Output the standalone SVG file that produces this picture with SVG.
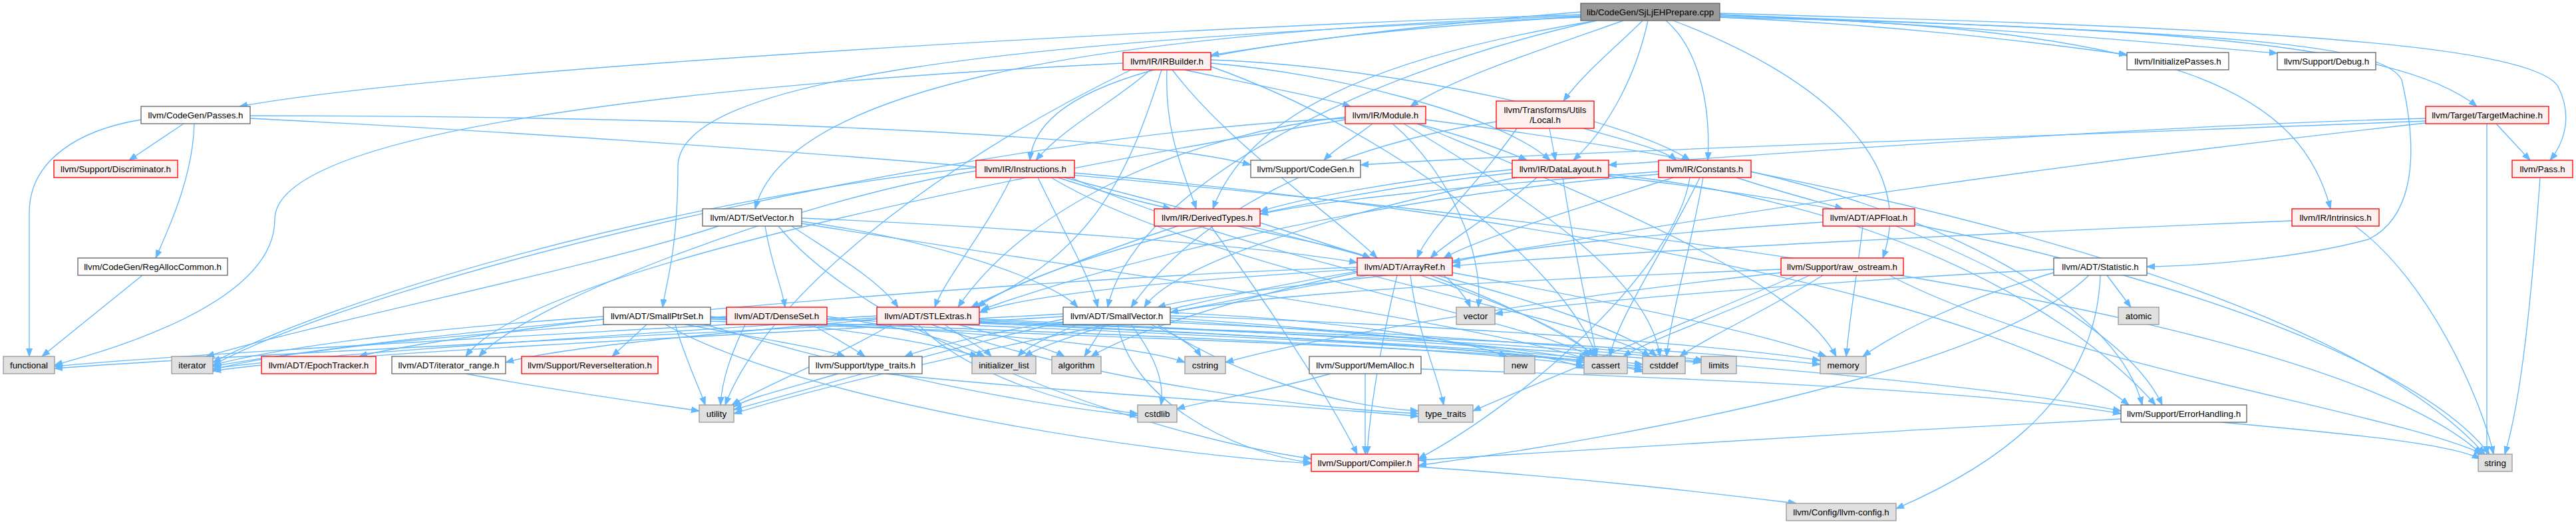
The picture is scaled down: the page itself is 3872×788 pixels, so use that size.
<svg xmlns="http://www.w3.org/2000/svg" width="3872" height="788" viewBox="0 0 3872 788">
<defs>
<marker id="a" markerWidth="13" markerHeight="10" refX="12" refY="5" orient="auto" markerUnits="userSpaceOnUse"><path d="M0,0.5 L12,5 L0,9.5 z" fill="#63b8ff" stroke="#63b8ff" stroke-width="1"/></marker>
<style>
text{font-family:"Liberation Sans",Arial,Helvetica,sans-serif;font-size:13.33px;text-anchor:middle;fill:#000}
rect{stroke-width:1.33}
.w rect{fill:#fff;stroke:#666}
.r rect{fill:#fff0f0;stroke:#f00}
.g rect{fill:#e0e0e0;stroke:#999}
.root rect{fill:#999;stroke:#666}
#edges path{fill:none;stroke:#63b8ff;stroke-width:1.33;marker-end:url(#a)}
</style>
</defs>
<rect x="0" y="0" width="3872" height="788" fill="#fff"/>
<g id="edges">
<path d="M2376,22 C1800,40 700,100 360,160"/>
<path d="M2376,24 C1600,50 1180,140 1135,314"/>
<path d="M2376,26 C1500,60 1020,120 1019,250 C1019,380 1000,430 996,462"/>
<path d="M2400,31 C2000,120 1700,300 1665,462"/>
<path d="M2585,22 C3300,50 3580,60 3610,120 C3640,250 3620,330 3560,360 C3450,390 3300,400 3227,401"/>
<path d="M2504,31 C2550,70 2572,150 2567,241"/>
<path d="M2477,31 C2460,110 2420,190 2365,241"/>
<path d="M2469,31 C2430,70 2380,110 2350,152"/>
<path d="M2440,31 C2300,80 2180,120 2120,160"/>
<path d="M2376,18 C2100,40 1900,70 1820,83"/>
<path d="M2376,25 C1800,60 1560,120 1548,241"/>
<path d="M2400,31 C2100,80 1880,160 1823,314"/>
<path d="M2585,24 C3300,40 3460,150 3503,314"/>
<path d="M2585,26 C2900,40 3100,70 3197,82"/>
<path d="M2585,20 C3300,40 3800,60 3845,130 C3870,180 3850,220 3833,241"/>
<path d="M2585,22 C3000,40 3300,70 3423,80"/>
<path d="M2515,31 C2750,120 2880,250 2830,388"/>
<path d="M2585,26 C3200,40 3600,60 3723,160"/>
<path d="M212,180 C120,195 44,240 44,320 L44,536"/>
<path d="M276,186 L194,241"/>
<path d="M292,186 C290,260 260,330 234,388"/>
<path d="M376,174 C1000,174 1700,200 1880,248"/>
<path d="M376,178 C1400,230 3400,380 3730,683"/>
<path d="M214,414 L63,536"/>
<path d="M1729,105 C1680,150 1600,190 1557,241"/>
<path d="M1754,105 C1750,200 1780,260 1798,314"/>
<path d="M1762,105 C1850,220 2000,320 2070,388"/>
<path d="M1746,105 C1700,250 1650,380 1460,462"/>
<path d="M1820,90 C2100,100 2450,180 2540,241"/>
<path d="M1820,95 C2000,110 2250,170 2330,241"/>
<path d="M1780,105 C1900,130 2000,150 2030,160"/>
<path d="M1820,100 C2100,200 2350,400 2400,536"/>
<path d="M1688,95 C1000,130 413,200 413,330 C413,460 150,530 82,549"/>
<path d="M1700,105 C1400,250 1150,450 1090,609"/>
<path d="M2063,186 C2040,205 2010,220 1990,241"/>
<path d="M2130,186 C2200,205 2260,225 2295,241"/>
<path d="M2022,176 C1800,200 1550,300 1440,462"/>
<path d="M2022,180 C1600,250 800,400 700,536"/>
<path d="M2110,186 C2300,300 2480,420 2495,536"/>
<path d="M2022,178 C1500,200 600,400 320,549"/>
<path d="M2130,186 C2400,300 2700,420 2760,536"/>
<path d="M2143,180 C2700,250 3500,420 3735,683"/>
<path d="M2093,186 C2180,260 2230,380 2222,462"/>
<path d="M2280,193 C2220,280 2150,340 2130,388"/>
<path d="M2329,193 L2338,241"/>
<path d="M2380,193 C2440,210 2500,225 2520,241"/>
<path d="M2249,183 C2000,220 1800,320 1700,462"/>
<path d="M3646,178 C3200,190 2700,230 2418,248"/>
<path d="M3646,182 C3200,200 2300,230 2045,248"/>
<path d="M3738,186 L3738,683"/>
<path d="M3646,185 C2600,300 1500,500 1103,622"/>
<path d="M3752,186 L3803,241"/>
<path d="M2310,267 C2250,320 2180,360 2150,388"/>
<path d="M2273,260 C1900,300 1550,400 1470,462"/>
<path d="M2280,267 C2000,320 1760,400 1720,462"/>
<path d="M2273,255 C2100,270 1950,300 1894,318"/>
<path d="M2418,262 C2800,300 3100,450 3240,609"/>
<path d="M2349,267 C2370,400 2390,480 2400,536"/>
<path d="M2418,265 C3000,330 3600,500 3742,683"/>
<path d="M2610,267 C2680,290 2740,305 2770,314"/>
<path d="M2515,267 C2350,320 2220,360 2170,388"/>
<path d="M2493,262 C2000,300 1600,420 1475,466"/>
<path d="M2493,258 C2200,280 2000,300 1894,322"/>
<path d="M2540,267 C2520,400 2300,600 2132,690"/>
<path d="M2632,258 C2900,320 3180,450 3220,609"/>
<path d="M2555,267 C2500,380 2430,480 2420,536"/>
<path d="M2560,267 C2540,380 2510,480 2505,536"/>
<path d="M1600,267 C1800,320 2000,370 2060,388"/>
<path d="M1520,267 C1480,350 1420,420 1405,462"/>
<path d="M1560,267 C1600,350 1640,420 1650,462"/>
<path d="M1467,257 C1200,300 800,450 720,536"/>
<path d="M1590,267 C1660,290 1720,305 1760,314"/>
<path d="M1615,260 C2300,320 3000,450 3200,609"/>
<path d="M1580,267 C1800,400 2300,480 2390,536"/>
<path d="M1610,267 C1900,400 2400,480 2480,536"/>
<path d="M1467,252 C1000,300 500,450 320,545"/>
<path d="M1860,340 C1950,360 2030,375 2060,388"/>
<path d="M1770,340 C1650,380 1520,430 1460,462"/>
<path d="M1820,340 C1900,450 2000,600 2040,683"/>
<path d="M1894,335 C2100,400 2350,480 2395,536"/>
<path d="M2740,334 C2500,350 2250,375 2183,395"/>
<path d="M2850,340 C3000,400 3200,500 3250,609"/>
<path d="M2800,340 C2790,420 2780,480 2775,536"/>
<path d="M2040,405 C1800,420 1550,440 1472,470"/>
<path d="M2085,414 C1950,430 1800,445 1740,462"/>
<path d="M2100,414 C2080,500 2060,600 2055,683"/>
<path d="M2040,410 C1850,450 1700,500 1640,536"/>
<path d="M2150,414 C2250,450 2350,500 2400,536"/>
<path d="M2160,414 C2300,450 2450,500 2490,536"/>
<path d="M2040,408 C1800,450 1600,500 1540,536"/>
<path d="M2040,402 C1500,420 600,500 320,551"/>
<path d="M2183,410 C2400,450 2650,500 2745,536"/>
<path d="M2120,414 C2130,500 2160,560 2170,609"/>
<path d="M2170,414 C2190,430 2205,450 2210,462"/>
<path d="M2677,405 C2300,420 1900,440 1759,470"/>
<path d="M2720,414 C2600,470 2480,510 2440,536"/>
<path d="M2740,414 C2650,470 2560,510 2525,536"/>
<path d="M2677,410 C2400,440 2000,500 1842,545"/>
<path d="M2840,414 C3100,550 3600,620 3732,683"/>
<path d="M2700,414 C2500,500 2300,580 2214,618"/>
<path d="M3157,414 C3150,600 3000,700 2850,765"/>
<path d="M3140,414 C3000,550 2500,650 2132,700"/>
<path d="M3167,414 L3203,462"/>
<path d="M3087,410 C2950,450 2850,500 2800,536"/>
<path d="M3087,405 C2800,420 2400,450 2247,472"/>
<path d="M1318,480 C1100,500 850,520 760,545"/>
<path d="M1472,480 C2000,500 2900,560 3188,618"/>
<path d="M1440,488 C1520,510 1580,525 1600,536"/>
<path d="M1472,484 C1800,500 2200,520 2381,545"/>
<path d="M1472,486 C1900,505 2300,525 2469,548"/>
<path d="M1380,488 C1450,560 1600,610 1710,622"/>
<path d="M1318,475 C900,500 300,530 82,551"/>
<path d="M1420,488 C1450,510 1480,525 1490,536"/>
<path d="M1318,478 C1000,500 500,530 320,554"/>
<path d="M1472,482 C1900,500 2400,520 2557,545"/>
<path d="M1472,485 C2000,500 2500,520 2736,548"/>
<path d="M1400,488 C1600,560 1900,610 2132,622"/>
<path d="M1340,488 C1250,540 1150,580 1100,609"/>
<path d="M1205,328 C1500,340 1900,370 2040,395"/>
<path d="M1150,340 C1160,400 1175,430 1180,462"/>
<path d="M1190,340 C1250,380 1320,420 1350,462"/>
<path d="M1205,333 C1400,360 1580,420 1620,462"/>
<path d="M1170,340 C1300,500 1700,650 1971,690"/>
<path d="M1205,336 C1600,400 2200,480 2385,540"/>
<path d="M1080,340 C900,400 500,480 310,536"/>
<path d="M907,480 C750,500 600,520 540,536"/>
<path d="M1000,488 C1200,600 1700,680 1971,697"/>
<path d="M972,488 L920,536"/>
<path d="M1030,488 C1150,510 1240,525 1270,536"/>
<path d="M1068,480 C1600,500 2200,520 2381,550"/>
<path d="M1068,483 C1600,505 2300,525 2469,552"/>
<path d="M1060,488 C1300,560 1550,610 1710,625"/>
<path d="M1068,478 C1400,495 1700,515 1781,545"/>
<path d="M1068,476 C1250,490 1400,515 1470,536"/>
<path d="M907,476 C700,490 450,515 320,549"/>
<path d="M1015,488 C1030,540 1050,580 1060,609"/>
<path d="M1220,488 C1250,505 1280,522 1300,536"/>
<path d="M1243,480 C1700,500 2300,520 2469,556"/>
<path d="M1243,476 C1350,490 1430,510 1480,536"/>
<path d="M1092,476 C800,495 450,520 320,556"/>
<path d="M1120,488 C1100,530 1085,570 1083,609"/>
<path d="M1680,488 C1700,600 1850,680 1971,696"/>
<path d="M1598,480 C1500,500 1400,520 1360,536"/>
<path d="M1660,488 C1650,505 1640,520 1630,536"/>
<path d="M1759,478 C2000,495 2300,520 2381,554"/>
<path d="M1759,482 C2050,500 2350,525 2469,559"/>
<path d="M1700,488 C1740,540 1750,580 1745,609"/>
<path d="M1730,488 C1770,505 1795,520 1805,536"/>
<path d="M1598,472 C1200,495 400,530 82,554"/>
<path d="M1620,488 C1580,505 1545,520 1530,536"/>
<path d="M1598,476 C1200,500 500,530 320,558"/>
<path d="M1759,485 C2100,500 2450,525 2560,542"/>
<path d="M1759,475 C2200,490 2600,520 2736,542"/>
<path d="M1759,470 C2000,480 2200,510 2265,536"/>
<path d="M1740,488 C1850,560 2000,610 2132,618"/>
<path d="M1598,484 C1400,530 1200,590 1103,616"/>
<path d="M700,562 C850,590 1000,610 1051,618"/>
<path d="M1330,562 C1600,590 1950,610 2132,626"/>
<path d="M1260,562 C1180,585 1120,600 1103,612"/>
<path d="M2052,562 L2052,683"/>
<path d="M2136,555 C2600,570 3000,590 3188,622"/>
<path d="M2000,562 C1900,590 1800,605 1769,615"/>
<path d="M3818,267 C3805,450 3790,600 3765,683"/>
<path d="M3445,332 C3000,350 2400,380 2183,400"/>
<path d="M3540,340 C3650,420 3730,600 3748,683"/>
<path d="M3188,630 C2800,650 2300,680 2132,692"/>
<path d="M3340,635 C3500,650 3680,665 3728,690"/>
<path d="M2132,702 C2400,720 2600,745 2700,757"/>
</g>
<g id="n_root" class="root"><rect x="2376" y="5" width="209" height="26"/><text x="2480.5" y="22.5">lib/CodeGen/SjLjEHPrepare.cpp</text></g>
<g id="n_irbuilder" class="r"><rect x="1688" y="79" width="132" height="26"/><text x="1754" y="96.5">llvm/IR/IRBuilder.h</text></g>
<g id="n_initpasses" class="w"><rect x="3197" y="79" width="153" height="26"/><text x="3273.5" y="96.5">llvm/InitializePasses.h</text></g>
<g id="n_debug" class="w"><rect x="3423" y="79" width="148" height="26"/><text x="3497" y="96.5">llvm/Support/Debug.h</text></g>
<g id="n_passes" class="w"><rect x="212" y="160" width="164" height="26"/><text x="294" y="177.5">llvm/CodeGen/Passes.h</text></g>
<g id="n_module" class="r"><rect x="2022" y="160" width="121" height="26"/><text x="2082.5" y="177.5">llvm/IR/Module.h</text></g>
<g id="n_local" class="r"><rect x="2249" y="152" width="147" height="41"/><text x="2322.5" y="169.5">llvm/Transforms/Utils</text><text x="2322.5" y="185">/Local.h</text></g>
<g id="n_targetmachine" class="r"><rect x="3646" y="160" width="185" height="26"/><text x="3738.5" y="177.5">llvm/Target/TargetMachine.h</text></g>
<g id="n_discriminator" class="r"><rect x="81" y="241" width="186" height="26"/><text x="174" y="258.5">llvm/Support/Discriminator.h</text></g>
<g id="n_instructions" class="r"><rect x="1467" y="241" width="148" height="26"/><text x="1541" y="258.5">llvm/IR/Instructions.h</text></g>
<g id="n_codegen" class="w"><rect x="1880" y="241" width="165" height="26"/><text x="1962.5" y="258.5">llvm/Support/CodeGen.h</text></g>
<g id="n_datalayout" class="r"><rect x="2273" y="241" width="145" height="26"/><text x="2345.5" y="258.5">llvm/IR/DataLayout.h</text></g>
<g id="n_constants" class="r"><rect x="2493" y="241" width="139" height="26"/><text x="2562.5" y="258.5">llvm/IR/Constants.h</text></g>
<g id="n_pass" class="r"><rect x="3776" y="241" width="91" height="26"/><text x="3821.5" y="258.5">llvm/Pass.h</text></g>
<g id="n_setvector" class="w"><rect x="1056" y="314" width="149" height="26"/><text x="1130.5" y="331.5">llvm/ADT/SetVector.h</text></g>
<g id="n_derivedtypes" class="r"><rect x="1735" y="314" width="159" height="26"/><text x="1814.5" y="331.5">llvm/IR/DerivedTypes.h</text></g>
<g id="n_apfloat" class="r"><rect x="2740" y="314" width="138" height="26"/><text x="2809" y="331.5">llvm/ADT/APFloat.h</text></g>
<g id="n_intrinsics" class="r"><rect x="3445" y="314" width="131" height="26"/><text x="3510.5" y="331.5">llvm/IR/Intrinsics.h</text></g>
<g id="n_regalloccommon" class="w"><rect x="117" y="388" width="225" height="26"/><text x="229.5" y="405.5">llvm/CodeGen/RegAllocCommon.h</text></g>
<g id="n_arrayref" class="r"><rect x="2040" y="388" width="143" height="26"/><text x="2111.5" y="405.5">llvm/ADT/ArrayRef.h</text></g>
<g id="n_rawostream" class="r"><rect x="2677" y="388" width="184" height="26"/><text x="2769" y="405.5">llvm/Support/raw_ostream.h</text></g>
<g id="n_statistic" class="w"><rect x="3087" y="388" width="140" height="26"/><text x="3157" y="405.5">llvm/ADT/Statistic.h</text></g>
<g id="n_smallptrset" class="w"><rect x="907" y="462" width="161" height="26"/><text x="987.5" y="479.5">llvm/ADT/SmallPtrSet.h</text></g>
<g id="n_denseset" class="r"><rect x="1092" y="462" width="151" height="26"/><text x="1167.5" y="479.5">llvm/ADT/DenseSet.h</text></g>
<g id="n_stlextras" class="r"><rect x="1318" y="462" width="154" height="26"/><text x="1395" y="479.5">llvm/ADT/STLExtras.h</text></g>
<g id="n_smallvector" class="w"><rect x="1598" y="462" width="161" height="26"/><text x="1678.5" y="479.5">llvm/ADT/SmallVector.h</text></g>
<g id="n_vector" class="g"><rect x="2189" y="462" width="58" height="26"/><text x="2218" y="479.5">vector</text></g>
<g id="n_atomic" class="g"><rect x="3184" y="462" width="61" height="26"/><text x="3214.5" y="479.5">atomic</text></g>
<g id="n_functional" class="g"><rect x="5" y="536" width="77" height="26"/><text x="43.5" y="553.5">functional</text></g>
<g id="n_iterator" class="g"><rect x="258" y="536" width="62" height="26"/><text x="289" y="553.5">iterator</text></g>
<g id="n_epochtracker" class="r"><rect x="393" y="536" width="172" height="26"/><text x="479" y="553.5">llvm/ADT/EpochTracker.h</text></g>
<g id="n_iteratorrange" class="w"><rect x="589" y="536" width="171" height="26"/><text x="674.5" y="553.5">llvm/ADT/iterator_range.h</text></g>
<g id="n_reverseiteration" class="r"><rect x="784" y="536" width="205" height="26"/><text x="886.5" y="553.5">llvm/Support/ReverseIteration.h</text></g>
<g id="n_supporttypetraits" class="w"><rect x="1216" y="536" width="170" height="26"/><text x="1301" y="553.5">llvm/Support/type_traits.h</text></g>
<g id="n_initializerlist" class="g"><rect x="1461" y="536" width="96" height="26"/><text x="1509" y="553.5">initializer_list</text></g>
<g id="n_algorithm" class="g"><rect x="1581" y="536" width="74" height="26"/><text x="1618" y="553.5">algorithm</text></g>
<g id="n_cstring" class="g"><rect x="1781" y="536" width="61" height="26"/><text x="1811.5" y="553.5">cstring</text></g>
<g id="n_memalloc" class="w"><rect x="1968" y="536" width="168" height="26"/><text x="2052" y="553.5">llvm/Support/MemAlloc.h</text></g>
<g id="n_new" class="g"><rect x="2261" y="536" width="46" height="26"/><text x="2284" y="553.5">new</text></g>
<g id="n_cassert" class="g"><rect x="2381" y="536" width="65" height="26"/><text x="2413.5" y="553.5">cassert</text></g>
<g id="n_cstddef" class="g"><rect x="2469" y="536" width="64" height="26"/><text x="2501" y="553.5">cstddef</text></g>
<g id="n_limits" class="g"><rect x="2557" y="536" width="53" height="26"/><text x="2583.5" y="553.5">limits</text></g>
<g id="n_memory" class="g"><rect x="2736" y="536" width="69" height="26"/><text x="2770.5" y="553.5">memory</text></g>
<g id="n_utility" class="g"><rect x="1051" y="609" width="52" height="26"/><text x="1077" y="626.5">utility</text></g>
<g id="n_cstdlib" class="g"><rect x="1710" y="609" width="59" height="26"/><text x="1739.5" y="626.5">cstdlib</text></g>
<g id="n_typetraits" class="g"><rect x="2132" y="609" width="82" height="26"/><text x="2173" y="626.5">type_traits</text></g>
<g id="n_errorhandling" class="w"><rect x="3188" y="609" width="189" height="26"/><text x="3282.5" y="626.5">llvm/Support/ErrorHandling.h</text></g>
<g id="n_compiler" class="r"><rect x="1971" y="683" width="161" height="26"/><text x="2051.5" y="700.5">llvm/Support/Compiler.h</text></g>
<g id="n_string" class="g"><rect x="3725" y="683" width="51" height="26"/><text x="3750.5" y="700.5">string</text></g>
<g id="n_llvmconfig" class="g"><rect x="2685" y="757" width="165" height="26"/><text x="2767.5" y="774.5">llvm/Config/llvm-config.h</text></g>
</svg>
